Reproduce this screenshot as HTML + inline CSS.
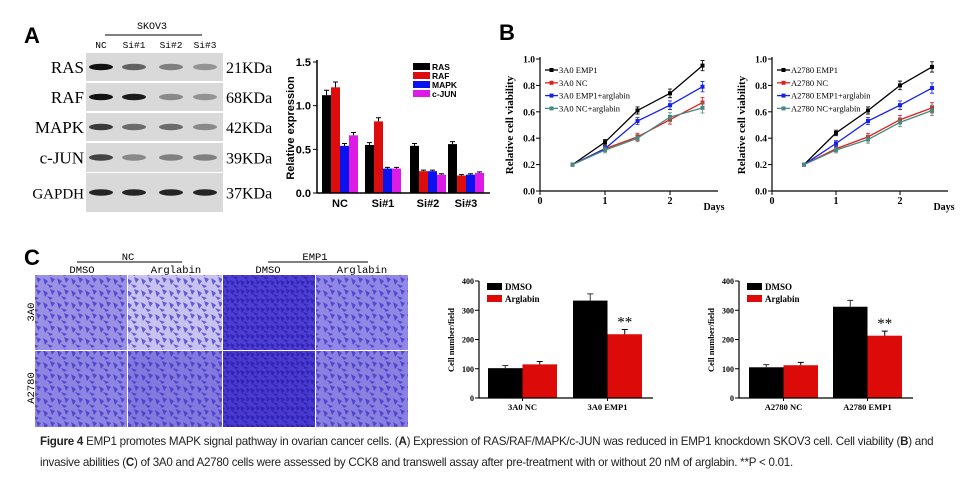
<!DOCTYPE html>
<html><head><meta charset="utf-8"><style>
body{margin:0;background:#fff;width:974px;height:494px;overflow:hidden;font-family:"Liberation Sans",sans-serif}
svg{position:absolute;left:0;top:0}
.cap{position:absolute;left:40px;top:431px;width:920px;font:11.6px/21px "Liberation Sans",sans-serif;color:#222;letter-spacing:-0.25px}
</style></head><body>
<svg id="fig" width="974" height="494">
<defs>
<pattern id="cells" width="14" height="12" patternUnits="userSpaceOnUse">
<path d="M1 2 L6 5 L3 9 Z M8 1 L13 3 L10 7 Z M5 8 L11 10 L8 12 Z" fill="#3a2cc8" opacity="0.7"/>
</pattern>
<pattern id="cells2" width="10" height="9" patternUnits="userSpaceOnUse">
<path d="M0 1 L5 3 L2 7 Z M6 0 L10 3 L7 6 Z M3 6 L9 8 L5 9 Z" fill="#2a1cb8" opacity="0.8"/>
</pattern>
</defs>
<g font-family="Liberation Sans, sans-serif" font-weight="bold" font-size="22">
<text x="24" y="43">A</text>
<text x="499" y="40">B</text>
<text x="24" y="265">C</text>
</g>
<g id="blot"></g>
<g id="chartA"></g>
<g id="chartB1"></g>
<g id="chartB2"></g>
<g id="micro"></g>
<g id="chartC1"></g>
<g id="chartC2"></g>
</svg>
<div class="cap"><b>Figure 4</b> EMP1 promotes MAPK signal pathway in ovarian cancer cells. (<b>A</b>) Expression of RAS/RAF/MAPK/c-JUN was reduced in EMP1 knockdown SKOV3 cell. Cell viability (<b>B</b>) and invasive abilities (<b>C</b>) of 3A0 and A2780 cells were assessed by CCK8 and transwell assay after pre-treatment with or without 20 nM of arglabin. **P &lt; 0.01.</div>
<script>
const NS='http://www.w3.org/2000/svg';
function el(p,t,a,txt){const e=document.createElementNS(NS,t);for(const k in a)e.setAttribute(k,a[k]);if(txt!==undefined)e.textContent=txt;p.appendChild(e);return e;}

// ---- data ----
const blotProteins=['RAS','RAF','MAPK','c-JUN','GAPDH'];
const blotSizes=['21KDa','68KDa','42KDa','39KDa','37KDa'];
const blotLanes=['NC','Si#1','Si#2','Si#3'];
const aCategories=['NC','Si#1','Si#2','Si#3'];
const aSeries=['RAS','RAF','MAPK','c-JUN'];
const aRAS=[1.12,0.55,0.54,0.56];
const aRAF=[1.21,0.82,0.25,0.20];
const aMAPK=[0.54,0.28,0.25,0.21];
const aCJUN=[0.66,0.28,0.21,0.23];
const aTicks=[0,0.5,1.0,1.5];
const bDays=[0.5,1,1.5,2,2.5];
const b1Names=['3A0 EMP1','3A0 NC','3A0 EMP1+arglabin','3A0 NC+arglabin'];
const b1EMP1=[0.2,0.37,0.61,0.74,0.95];
const b1NC=[0.2,0.32,0.41,0.54,0.67];
const b1EMP1Arg=[0.2,0.32,0.53,0.65,0.79];
const b1NCArg=[0.2,0.31,0.40,0.56,0.63];
const b2Names=['A2780 EMP1','A2780 NC','A2780 EMP1+arglabin','A2780 NC+arglabin'];
const b2EMP1=[0.2,0.44,0.61,0.80,0.94];
const b2NC=[0.2,0.32,0.41,0.54,0.63];
const b2EMP1Arg=[0.2,0.36,0.53,0.65,0.78];
const b2NCArg=[0.2,0.31,0.39,0.52,0.61];
const bYTicks=[0,0.2,0.4,0.6,0.8,1.0];
const bXTicks=[0,1,2];
const c1Categories=['3A0 NC','3A0 EMP1'];
const c1DMSO=[102,333];
const c1Arg=[115,218];
const c2Categories=['A2780 NC','A2780 EMP1'];
const c2DMSO=[105,312];
const c2Arg=[112,213];
const cTicks=[0,100,200,300,400];

// ---- blot ----
(function(){
 const g=document.getElementById('blot');
 el(g,'text',{x:152,y:29,'font-family':'Liberation Mono, monospace','font-size':10,'text-anchor':'middle'},'SKOV3');
 el(g,'line',{x1:105,x2:202,y1:35,y2:35,stroke:'#000'});
 const laneX=[101,134,171,205];
 blotLanes.forEach((l,i)=>{const t=el(g,'text',{x:laneX[i],y:48,'font-family':'Liberation Mono, monospace','font-size':9.5,'text-anchor':'middle'},l);});
 const rows=[[53,28],[83,28],[113,28],[143,29],[173,39]];
 const inten=[[1,.6,.45,.35],[1,.95,.4,.35],[.8,.55,.55,.4],[.75,.4,.45,.45],[.9,.9,.9,.9]];
 rows.forEach((r,i)=>{
  el(g,'rect',{x:86,y:r[0],width:137,height:r[1],fill:'#d9d9d9'});
  laneX.forEach((x,j)=>{const b=el(g,'ellipse',{cx:x,cy:r[0]+r[1]/2,rx:12,ry:3.2,fill:'#111',opacity:inten[i][j]});});
  const t=el(g,'text',{x:84,y:r[0]+r[1]/2+6,'font-family':'Liberation Serif, serif','font-size':i==4?15:17,'text-anchor':'end'},blotProteins[i]);
  
  const s=el(g,'text',{x:226,y:r[0]+r[1]/2+6,'font-family':'Liberation Serif, serif','font-size':16},blotSizes[i]);
  
 });
})();

// ---- chart A ----
(function(){
 const g=document.getElementById('chartA');
 const x0=317,y0=193,yTop=62,xEnd=490;
 const y=v=>y0-(v/1.5)*(y0-yTop);
 const groupStart=[322,365,410,448];
 const bw=9;
 const colors=['#000','#dd0d0d','#0a12f0','#dc1be6'];
 const series=[aRAS,aRAF,aMAPK,aCJUN];
 series.forEach((s,si)=>s.forEach((v,ci)=>{
  const bx=groupStart[ci]+si*bw;
  const r=el(g,'rect',{x:bx,y:y(v),width:bw,height:y0-y(v),fill:colors[si]});
  
  
  const e=v*0.05;
  el(g,'path',{d:`M${bx+bw/2} ${y(v+e)}V${y(v)}M${bx+2} ${y(v+e)}h${bw-4}`,stroke:'#000','stroke-width':1,fill:'none'});
 }));
 el(g,'path',{d:`M${x0} ${yTop-2}V${y0}H${xEnd}`,stroke:'#000','stroke-width':1.5,fill:'none'});
 aTicks.forEach(t=>{el(g,'line',{x1:x0-4,x2:x0,y1:y(t),y2:y(t),stroke:'#000'});
  const l=el(g,'text',{x:x0-6,y:y(t)+4,'font-size':11,'font-weight':'bold','text-anchor':'end'},t.toFixed(1));});
 aCategories.forEach((c,i)=>{const l=el(g,'text',{x:groupStart[i]+18,y:207,'font-size':11,'font-weight':'bold','text-anchor':'middle'},c);});
 const yl=el(g,'text',{x:0,y:0,transform:'translate(294,128) rotate(-90)','font-size':11,'font-weight':'bold','text-anchor':'middle'},'Relative expression');
 
 aSeries.forEach((s,i)=>{
  el(g,'rect',{x:413,y:63+i*9,width:17,height:7,fill:colors[i]});
  const l=el(g,'text',{x:432,y:70+i*9,'font-size':8.5,'font-weight':'bold'},s);
 });
})();

// ---- chart B ----
function lineChart(id,x0,xUnit,xEnd,names,series){
 const g=document.getElementById(id);
 const y0=191,yTop=59;
 const y=v=>y0-v*(y0-yTop);
 const x=d=>x0+d*xUnit;
 const colors=['#000','#e0201c','#1420ee','#4a8a80'];
 series.forEach((s,si)=>{
  const p=el(g,'polyline',{points:s.map((v,i)=>x(bDays[i])+','+y(v)).join(' '),fill:'none',stroke:colors[si],'stroke-width':1.3});
  
  s.forEach((v,i)=>{
   const px=x(bDays[i]);
   const e=i==0?0:0.015+i*0.006;
   el(g,'path',{d:`M${px} ${y(v-e)}V${y(v+e)}M${px-2} ${y(v-e)}h4M${px-2} ${y(v+e)}h4`,stroke:colors[si],fill:'none','stroke-width':0.8});
   const m=el(g,'rect',{x:px-2,y:y(v)-2,width:4,height:4,fill:colors[si]});
  });
 });
 el(g,'path',{d:`M${x0} ${yTop-2}V${y0}H${xEnd}`,stroke:'#000','stroke-width':1.2,fill:'none'});
 bYTicks.forEach(t=>{el(g,'line',{x1:x0-4,x2:x0,y1:y(t),y2:y(t),stroke:'#000'});
  const l=el(g,'text',{x:x0-5,y:y(t)+3.5,'font-size':9.5,'font-weight':'bold','font-family':'Liberation Serif, serif','text-anchor':'end'},t.toFixed(1));});
 bXTicks.forEach(t=>{el(g,'line',{x1:x(t),x2:x(t),y1:y0,y2:y0+4,stroke:'#000'});
  const l=el(g,'text',{x:x(t),y:y0+13,'font-size':10,'font-weight':'bold','font-family':'Liberation Serif, serif','text-anchor':'middle'},t);});
 const dl=el(g,'text',{x:xEnd-4,y:210,'font-size':10,'font-weight':'bold','font-family':'Liberation Serif, serif','text-anchor':'middle'},'Days');
 const yl=el(g,'text',{x:0,y:0,transform:`translate(${x0-27},125) rotate(-90)`,'font-size':11,'font-weight':'bold','font-family':'Liberation Serif, serif','text-anchor':'middle'},'Relative cell viability');
 
 names.forEach((n,i)=>{
  const ly=70+i*12.8;
  el(g,'line',{x1:x0+5,x2:x0+18,y1:ly,y2:ly,stroke:colors[i],'stroke-width':1.3});
  el(g,'rect',{x:x0+9.5,y:ly-2,width:4,height:4,fill:colors[i]});
  const l=el(g,'text',{x:x0+19,y:ly+3,'font-size':8.5,'font-family':'Liberation Serif, serif'},n);
 });
}
lineChart('chartB1',540,65,718,b1Names,[b1EMP1,b1NC,b1EMP1Arg,b1NCArg]);
lineChart('chartB2',772,64,948,b2Names,[b2EMP1,b2NC,b2EMP1Arg,b2NCArg]);

// ---- micrographs ----
(function(){
 const g=document.getElementById('micro');
 const xs=[35,128,223,316],ws=[92,94,92,92];
 const fills=[['#9a91e4','#c8c2f0','#4e3fd0','#9088e4'],['#8e85e2','#8278de','#4a3bcc','#8a80e0']];
 [[275,75],[351,76]].forEach((r,ri)=>xs.forEach((x,ci)=>{
  const b=el(g,'rect',{x:x,y:r[0],width:ws[ci],height:r[1],fill:fills[ri][ci]});
  
  el(g,'rect',{x:x,y:r[0],width:ws[ci],height:r[1],fill:(ci==2?'url(#cells2)':'url(#cells)')});
 }));
 el(g,'text',{x:128,y:260,'font-family':'Liberation Mono, monospace','font-size':10.5,'text-anchor':'middle'},'NC');
 el(g,'line',{x1:77,x2:182,y1:262,y2:262,stroke:'#000'});
 el(g,'text',{x:315,y:260,'font-family':'Liberation Mono, monospace','font-size':10.5,'text-anchor':'middle'},'EMP1');
 el(g,'line',{x1:268,x2:368,y1:262,y2:262,stroke:'#000'});
 [[82,'DMSO'],[176,'Arglabin'],[268,'DMSO'],[362,'Arglabin']].forEach(d=>{const t=el(g,'text',{x:d[0],y:273,'font-family':'Liberation Mono, monospace','font-size':10.5,'text-anchor':'middle'},d[1]);});
 el(g,'text',{x:0,y:0,transform:'translate(34,312) rotate(-90)','font-family':'Liberation Mono, monospace','font-size':10.5,'text-anchor':'middle'},'3A0');
 el(g,'text',{x:0,y:0,transform:'translate(34,388) rotate(-90)','font-family':'Liberation Mono, monospace','font-size':10.5,'text-anchor':'middle'},'A2780');
})();

// ---- chart C ----
function barChart(id,x0,bars,cats,dmso,arg){
 const g=document.getElementById(id);
 const y0=398,yTop=281,xEnd=x0+174;
 const y=v=>y0-(v/400)*(y0-yTop);
 const bw=34.5;
 [dmso,arg].forEach((s,si)=>s.forEach((v,ci)=>{
  const bx=bars[ci]+si*bw;
  const r=el(g,'rect',{x:bx,y:y(v),width:bw,height:y0-y(v),fill:si?'#dd0a0a':'#000'});
  
  const e=v*0.06+3;
  el(g,'path',{d:`M${bx+bw/2} ${y(v+e)}V${y(v)}M${bx+bw/2-3} ${y(v+e)}h6`,stroke:si?'#000':'#333',fill:'none'});
  if(si&&ci==1){const s=el(g,'text',{x:bx+bw/2,y:y(v+e)-3,'font-size':15,'text-anchor':'middle','font-family':'Liberation Serif, serif'},'**');}
 }));
 el(g,'path',{d:`M${x0} ${yTop}V${y0}H${xEnd}`,stroke:'#000','stroke-width':1.2,fill:'none'});
 cTicks.forEach(t=>{el(g,'line',{x1:x0-4,x2:x0,y1:y(t),y2:y(t),stroke:'#000'});
  const l=el(g,'text',{x:x0-5,y:y(t)+3,'font-size':8,'font-weight':'bold','font-family':'Liberation Serif, serif','text-anchor':'end'},t);});
 cats.forEach((c,i)=>{el(g,'line',{x1:bars[i]+bw,x2:bars[i]+bw,y1:y0,y2:y0+3,stroke:'#000'});
  const l=el(g,'text',{x:bars[i]+bw,y:y0+12,'font-size':8.5,'font-weight':'bold','font-family':'Liberation Serif, serif','text-anchor':'middle'},c);});
 const yl=el(g,'text',{x:0,y:0,transform:`translate(${x0-25},340) rotate(-90)`,'font-size':8.5,'font-weight':'bold','font-family':'Liberation Serif, serif','text-anchor':'middle'},'Cell number/field');
 
 [['DMSO','#000'],['Arglabin','#dd0a0a']].forEach((d,i)=>{
  el(g,'rect',{x:x0+8,y:283+i*12,width:15,height:7,fill:d[1]});
  const l=el(g,'text',{x:x0+26,y:290+i*12,'font-size':9,'font-weight':'bold','font-family':'Liberation Serif, serif'},d[0]);
 });
}
barChart('chartC1',479,[488,573],c1Categories,c1DMSO,c1Arg);
barChart('chartC2',739,[749,833],c2Categories,c2DMSO,c2Arg);
</script>
</body></html>
